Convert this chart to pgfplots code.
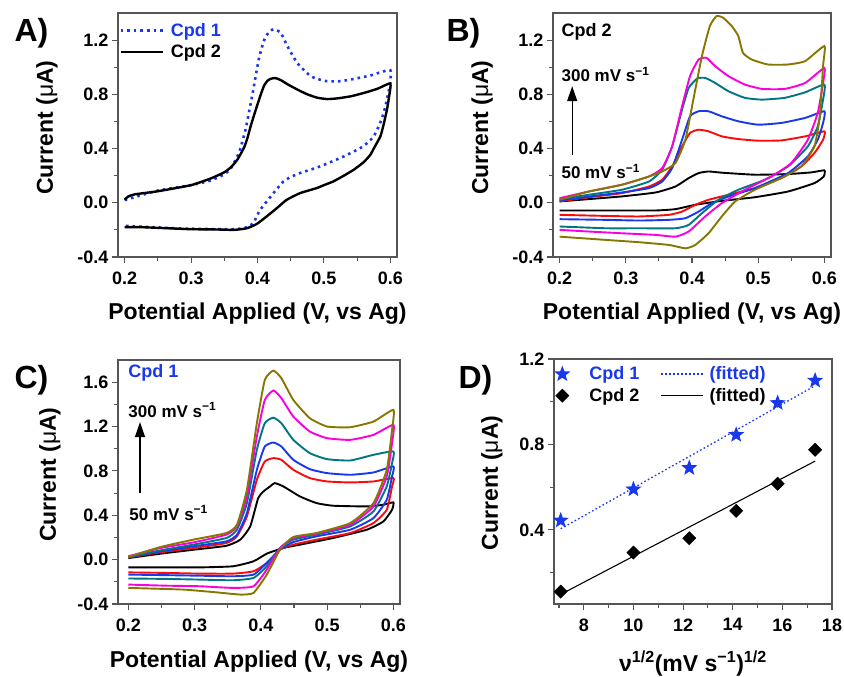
\documentclass[border=0pt]{standalone}
\usepackage{fontspec}
\setmainfont{Liberation Sans}
\usepackage{pgfplots}
\pgfplotsset{compat=1.18}
\usetikzlibrary{arrows.meta}
\definecolor{cblue}{RGB}{25,55,235}
\definecolor{cred}{RGB}{250,10,10}
\definecolor{cteal}{RGB}{0,118,132}
\definecolor{cmag}{RGB}{250,0,220}
\definecolor{colive}{RGB}{135,118,0}
\definecolor{framegray}{RGB}{85,85,85}
\pgfdeclareplotmark{fstar}{%
  \pgfpathmoveto{\pgfqpointpolar{90}{\pgfplotmarksize}}%
  \pgfpathlineto{\pgfqpointpolar{126}{0.42\pgfplotmarksize}}%
  \pgfpathlineto{\pgfqpointpolar{162}{\pgfplotmarksize}}%
  \pgfpathlineto{\pgfqpointpolar{198}{0.42\pgfplotmarksize}}%
  \pgfpathlineto{\pgfqpointpolar{234}{\pgfplotmarksize}}%
  \pgfpathlineto{\pgfqpointpolar{270}{0.42\pgfplotmarksize}}%
  \pgfpathlineto{\pgfqpointpolar{306}{\pgfplotmarksize}}%
  \pgfpathlineto{\pgfqpointpolar{342}{0.42\pgfplotmarksize}}%
  \pgfpathlineto{\pgfqpointpolar{18}{\pgfplotmarksize}}%
  \pgfpathlineto{\pgfqpointpolar{54}{0.42\pgfplotmarksize}}%
  \pgfpathclose\pgfusepathqfill}
\pgfplotsset{
  longline/.style={legend image code/.code={\draw[##1] (0pt,0pt) -- (42pt,0pt);}},
  panel/.style={
    scale only axis, anchor=south west,
    axis line style={draw=framegray, line width=1.2pt},
    every tick/.style={draw=framegray, line width=1.1pt},
    tick align=outside, tick pos=left,
    major tick length=6pt, minor tick length=4pt,
    ticklabel style={font=\fontsize{18}{18}\selectfont\bfseries},
    xticklabel style={yshift=-5pt},
    label style={font=\fontsize{23}{23}\selectfont\bfseries},
    ylabel={Current ({\mdseries μ}A)},
  },
  cv/.style={
    panel, width=279pt, height=244pt,
    xmin=0.19, xmax=0.61,
    xtick={0.2,0.3,0.4,0.5,0.6}, xticklabels={0.2,0.3,0.4,0.5,0.6},
    minor xtick={0.25,0.35,0.45,0.55},
    xlabel={Potential Applied (V, vs Ag)},
  },
}
\begin{document}
\begin{tikzpicture}
\path[use as bounding box] (0,0) rectangle (844pt,677pt);
\node[anchor=west,font=\fontsize{32}{32}\selectfont\bfseries] at (11pt,644pt) {A)};
\node[anchor=west,font=\fontsize{32}{32}\selectfont\bfseries] at (443pt,644pt) {B)};
\node[anchor=west,font=\fontsize{32}{32}\selectfont\bfseries] at (11pt,297pt) {C)};
\node[anchor=west,font=\fontsize{32}{32}\selectfont\bfseries] at (455pt,297pt) {D)};

% ---------------- A ----------------
\begin{axis}[cv, at={(118pt,420pt)},
  ymin=-0.4, ymax=1.4,
  ytick={-0.4,0,0.4,0.8,1.2}, yticklabels={-0.4,0.0,0.4,0.8,1.2},
  minor ytick={-0.2,0.2,0.6,1.0},
  xlabel style={at={(axis description cs:0.5,-0.23)}, anchor=center},
  ylabel style={at={(axis description cs:-0.255,0.53)}, anchor=center},
  legend style={at={(axis description cs:0.0,0.975)}, anchor=north west, draw=none, fill=none,
    font=\fontsize{18}{18}\selectfont\bfseries, inner xsep=1pt, inner ysep=2pt, row sep=3pt,
    /tikz/every odd column/.append style={column sep=5pt}},
  legend cell align=left,
  every axis plot/.append style={smooth, tension=0.3},
]
\addplot[cblue, line width=2.6pt, dash pattern=on 2.6pt off 4pt, longline] coordinates {
(0.2,0.02)(0.25,0.09)(0.3,0.13)(0.33,0.165)(0.35,0.21)(0.36,0.255)(0.372,0.367)(0.382,0.54)(0.392,0.79)(0.402,1.06)(0.41,1.2)(0.418,1.265)(0.425,1.28)(0.435,1.254)(0.445,1.155)(0.46,1.03)(0.48,0.934)(0.5,0.9)(0.52,0.895)(0.54,0.909)(0.57,0.939)(0.6,0.978)
(0.598,0.835)(0.59,0.663)(0.583,0.57)(0.575,0.49)(0.565,0.44)(0.555,0.404)(0.53,0.342)(0.494,0.268)(0.464,0.219)(0.45,0.19)(0.439,0.157)(0.424,0.071)(0.404,-0.052)(0.396,-0.13)(0.39,-0.165)(0.385,-0.18)(0.37,-0.193)(0.34,-0.195)(0.29,-0.19)(0.24,-0.18)(0.2,-0.17)};
\addlegendentry{\textcolor{cblue}{Cpd 1}}
\addplot[black, line width=2.4pt, longline] coordinates {
(0.2,0.022)(0.205,0.045)(0.215,0.062)(0.25,0.085)(0.3,0.13)(0.33,0.18)(0.35,0.225)(0.36,0.262)(0.37,0.32)(0.38,0.41)(0.385,0.48)(0.39,0.57)(0.397,0.68)(0.405,0.8)(0.41,0.865)(0.415,0.9)(0.42,0.915)(0.427,0.92)(0.435,0.905)(0.445,0.875)(0.46,0.835)(0.475,0.8)(0.49,0.775)(0.505,0.765)(0.52,0.77)(0.54,0.785)(0.56,0.81)(0.58,0.84)(0.6,0.88)
(0.598,0.78)(0.595,0.69)(0.59,0.58)(0.585,0.49)(0.575,0.4)(0.57,0.355)(0.56,0.3)(0.545,0.244)(0.53,0.2)(0.514,0.157)(0.5,0.13)(0.489,0.108)(0.464,0.071)(0.444,0.022)(0.429,-0.04)(0.414,-0.1)(0.399,-0.156)(0.384,-0.188)(0.365,-0.2)(0.34,-0.197)(0.3,-0.195)(0.265,-0.188)(0.225,-0.18)(0.2,-0.18)};
\addlegendentry{Cpd 2}
\end{axis}

% ---------------- B ----------------
\begin{axis}[cv, at={(553pt,420pt)}, width=278pt,
  ymin=-0.4, ymax=1.4,
  ytick={-0.4,0,0.4,0.8,1.2}, yticklabels={-0.4,0.0,0.4,0.8,1.2},
  minor ytick={-0.2,0.2,0.6,1.0},
  xlabel style={at={(axis description cs:0.5,-0.23)}, anchor=center},
  ylabel style={at={(axis description cs:-0.255,0.53)}, anchor=center},
  every axis plot/.append style={line width=1.9pt, smooth, tension=0.3},
]
\addplot[black] coordinates {
(0.2,0.01)(0.244,0.027)(0.294,0.047)(0.345,0.076)(0.375,0.12)(0.395,0.182)(0.41,0.219)(0.425,0.231)(0.445,0.222)(0.495,0.207)(0.545,0.212)(0.58,0.224)(0.6,0.239)
(0.599,0.194)(0.585,0.145)(0.545,0.083)(0.495,0.041)(0.445,0.014)(0.405,-0.015)(0.375,-0.047)(0.345,-0.057)(0.294,-0.057)(0.244,-0.057)(0.2,-0.057)};
\addplot[cred] coordinates {
(0.2,0.01)(0.244,0.041)(0.294,0.071)(0.335,0.12)(0.355,0.17)(0.37,0.268)(0.385,0.416)(0.397,0.515)(0.41,0.539)(0.425,0.527)(0.445,0.49)(0.47,0.47)(0.5,0.458)(0.535,0.46)(0.571,0.49)(0.6,0.527)
(0.598,0.465)(0.585,0.367)(0.565,0.268)(0.535,0.182)(0.495,0.108)(0.455,0.059)(0.425,0.022)(0.405,-0.015)(0.385,-0.065)(0.365,-0.089)(0.32,-0.101)(0.27,-0.097)(0.2,-0.089)};
\addplot[cblue] coordinates {
(0.2,0.017)(0.244,0.046)(0.294,0.076)(0.335,0.108)(0.355,0.157)(0.37,0.256)(0.385,0.465)(0.397,0.638)(0.41,0.675)(0.425,0.675)(0.445,0.638)(0.47,0.601)(0.5,0.576)(0.535,0.589)(0.571,0.626)(0.6,0.675)
(0.598,0.589)(0.59,0.465)(0.575,0.342)(0.545,0.219)(0.495,0.108)(0.455,0.046)(0.43,-0.003)(0.41,-0.065)(0.39,-0.114)(0.365,-0.126)(0.32,-0.131)(0.27,-0.126)(0.2,-0.121)};
\addplot[cteal] coordinates {
(0.2,0.027)(0.244,0.059)(0.294,0.096)(0.335,0.157)(0.355,0.244)(0.37,0.416)(0.385,0.687)(0.395,0.847)(0.408,0.917)(0.42,0.921)(0.435,0.884)(0.455,0.823)(0.48,0.774)(0.506,0.761)(0.54,0.774)(0.571,0.815)(0.6,0.872)
(0.598,0.761)(0.59,0.564)(0.575,0.416)(0.545,0.268)(0.51,0.17)(0.47,0.096)(0.44,0.022)(0.415,-0.077)(0.395,-0.163)(0.375,-0.188)(0.32,-0.188)(0.27,-0.188)(0.2,-0.175)};
\addplot[cmag] coordinates {
(0.2,0.034)(0.244,0.083)(0.294,0.133)(0.335,0.194)(0.355,0.256)(0.37,0.416)(0.385,0.712)(0.397,0.934)(0.41,1.057)(0.422,1.069)(0.435,1.008)(0.455,0.934)(0.48,0.872)(0.506,0.84)(0.54,0.84)(0.571,0.884)(0.6,0.995)
(0.598,0.884)(0.59,0.663)(0.575,0.465)(0.55,0.293)(0.52,0.194)(0.48,0.096)(0.445,-0.003)(0.42,-0.101)(0.395,-0.212)(0.375,-0.25)(0.345,-0.237)(0.294,-0.225)(0.244,-0.212)(0.2,-0.2)};
\addplot[colive] coordinates {
(0.2,0.022)(0.244,0.083)(0.294,0.133)(0.335,0.194)(0.355,0.231)(0.375,0.293)(0.39,0.465)(0.402,0.761)(0.415,1.082)(0.427,1.304)(0.437,1.377)(0.447,1.365)(0.46,1.304)(0.47,1.23)(0.477,1.106)(0.49,1.057)(0.515,1.02)(0.545,1.02)(0.571,1.045)(0.6,1.156)
(0.598,1.008)(0.593,0.638)(0.585,0.416)(0.565,0.268)(0.535,0.182)(0.495,0.096)(0.465,0.009)(0.445,-0.101)(0.425,-0.225)(0.405,-0.311)(0.39,-0.336)(0.365,-0.311)(0.32,-0.291)(0.27,-0.274)(0.2,-0.25)};
\node[anchor=west, font=\fontsize{18}{18}\selectfont\bfseries, inner sep=0pt] at (axis cs:0.2027,1.264) {Cpd 2};
\node[anchor=west, font=\fontsize{17}{17}\selectfont\bfseries, inner sep=0pt] at (axis cs:0.2027,0.946) {300 mV s\textsuperscript{−1}};
\node[anchor=west, font=\fontsize{17}{17}\selectfont\bfseries, inner sep=0pt] at (axis cs:0.2027,0.229) {50 mV s\textsuperscript{−1}};
\draw[-{Triangle[length=15pt,width=10pt]}, line width=1.3pt] (axis cs:0.219,0.355) -- (axis cs:0.219,0.86);
\end{axis}

% ---------------- C ----------------
\begin{axis}[cv, at={(118pt,73pt)}, width=282pt, xmin=0.1845,
  ymin=-0.4, ymax=1.8,
  ytick={-0.4,0,0.4,0.8,1.2,1.6}, yticklabels={-0.4,0.0,0.4,0.8,1.2,1.6},
  minor ytick={-0.2,0.2,0.6,1.0,1.4},
  xlabel style={at={(axis description cs:0.5,-0.236)}, anchor=center},
  ylabel style={at={(axis description cs:-0.241,0.53)}, anchor=center},
  every axis plot/.append style={line width=1.9pt, smooth, tension=0.3},
]
\addplot[black] coordinates {
(0.2,0.014)(0.248,0.053)(0.298,0.089)(0.348,0.125)(0.369,0.18)(0.384,0.3)(0.396,0.555)(0.404,0.615)(0.414,0.66)(0.421,0.69)(0.434,0.66)(0.459,0.57)(0.484,0.51)(0.509,0.486)(0.56,0.48)(0.585,0.495)(0.6,0.516)
(0.598,0.45)(0.585,0.345)(0.56,0.27)(0.509,0.195)(0.459,0.135)(0.434,0.105)(0.409,0.054)(0.389,-0.015)(0.358,-0.06)(0.308,-0.07)(0.258,-0.07)(0.2,-0.07)};
\addplot[cred] coordinates {
(0.2,0.02)(0.248,0.065)(0.298,0.104)(0.348,0.15)(0.364,0.21)(0.379,0.39)(0.394,0.72)(0.406,0.885)(0.419,0.915)(0.431,0.9)(0.449,0.81)(0.474,0.735)(0.5,0.705)(0.535,0.696)(0.57,0.705)(0.6,0.735)
(0.598,0.66)(0.59,0.45)(0.57,0.33)(0.535,0.24)(0.484,0.18)(0.449,0.135)(0.429,0.09)(0.409,-0.03)(0.389,-0.105)(0.358,-0.126)(0.308,-0.126)(0.258,-0.12)(0.2,-0.115)};
\addplot[cblue] coordinates {
(0.2,0.02)(0.248,0.074)(0.298,0.12)(0.348,0.165)(0.364,0.225)(0.379,0.42)(0.394,0.81)(0.406,1.02)(0.419,1.056)(0.431,1.02)(0.449,0.9)(0.474,0.816)(0.5,0.78)(0.535,0.765)(0.57,0.786)(0.6,0.84)
(0.598,0.75)(0.59,0.54)(0.57,0.375)(0.535,0.27)(0.484,0.21)(0.449,0.158)(0.429,0.09)(0.409,-0.03)(0.389,-0.135)(0.358,-0.15)(0.308,-0.145)(0.258,-0.14)(0.2,-0.135)};
\addplot[cteal] coordinates {
(0.2,0.023)(0.248,0.083)(0.298,0.135)(0.348,0.195)(0.364,0.27)(0.379,0.51)(0.394,0.99)(0.406,1.23)(0.419,1.28)(0.431,1.23)(0.449,1.08)(0.474,0.96)(0.5,0.906)(0.535,0.894)(0.57,0.945)(0.6,0.975)
(0.598,0.87)(0.59,0.66)(0.57,0.435)(0.535,0.3)(0.484,0.225)(0.449,0.18)(0.429,0.105)(0.409,-0.06)(0.389,-0.165)(0.358,-0.186)(0.308,-0.18)(0.258,-0.174)(0.2,-0.17)};
\addplot[cmag] coordinates {
(0.2,0.03)(0.248,0.104)(0.298,0.155)(0.348,0.225)(0.364,0.3)(0.379,0.57)(0.394,1.11)(0.406,1.44)(0.419,1.525)(0.431,1.456)(0.449,1.29)(0.474,1.155)(0.5,1.095)(0.535,1.08)(0.57,1.125)(0.6,1.215)
(0.598,1.05)(0.59,0.75)(0.57,0.48)(0.535,0.315)(0.484,0.234)(0.449,0.195)(0.429,0.105)(0.409,-0.09)(0.389,-0.24)(0.358,-0.255)(0.308,-0.24)(0.258,-0.235)(0.2,-0.225)};
\addplot[colive] coordinates {
(0.2,0.023)(0.248,0.113)(0.298,0.18)(0.348,0.24)(0.364,0.315)(0.379,0.63)(0.394,1.23)(0.406,1.62)(0.419,1.705)(0.431,1.636)(0.449,1.44)(0.474,1.275)(0.5,1.2)(0.535,1.194)(0.57,1.245)(0.6,1.35)
(0.598,1.17)(0.59,0.81)(0.57,0.51)(0.535,0.33)(0.484,0.24)(0.449,0.204)(0.429,0.09)(0.409,-0.135)(0.389,-0.3)(0.369,-0.315)(0.333,-0.295)(0.283,-0.27)(0.2,-0.255)};
\node[anchor=west, font=\fontsize{18}{18}\selectfont\bfseries, inner sep=0pt, text=cblue] at (axis cs:0.2,1.684) {Cpd 1};
\node[anchor=west, font=\fontsize{17}{17}\selectfont\bfseries, inner sep=0pt] at (axis cs:0.2,1.35) {300 mV s\textsuperscript{−1}};
\node[anchor=west, font=\fontsize{17}{17}\selectfont\bfseries, inner sep=0pt] at (axis cs:0.2015,0.42) {50 mV s\textsuperscript{−1}};
\draw[-{Triangle[length=15pt,width=10pt]}, line width=1.3pt] (axis cs:0.2177,0.6) -- (axis cs:0.2177,1.24);
\end{axis}

% ---------------- D ----------------
\begin{axis}[panel, at={(554pt,73pt)}, width=278pt, height=245pt,
  xmin=6.8, xmax=18, ymin=0.053, ymax=1.2,
  xtick={8,10,12,14,16,18}, xticklabels={8,10,12,14,16,18},
  minor xtick={7,9,11,13,15,17},
  ytick={0.4,0.8,1.2}, yticklabels={0.4,0.8,1.2},
  minor ytick={0.2,0.6,1.0},
  xlabel={ν\textsuperscript{1/2}(mV s\textsuperscript{−1})\textsuperscript{1/2}},
  xlabel style={at={(axis description cs:0.5,-0.245)}, anchor=center},
  ylabel style={at={(axis description cs:-0.223,0.494)}, anchor=center},
  legend columns=2,
  legend style={at={(axis description cs:0.0,0.985)}, anchor=north west, draw=none, fill=none,
    font=\fontsize{18}{18}\selectfont\bfseries, inner xsep=0pt, inner ysep=2pt, row sep=3pt,
    /tikz/column 1/.style={column sep=17pt},
    /tikz/column 2/.style={column sep=19pt},
    /tikz/column 3/.style={column sep=4pt}},
  legend cell align=left,
  clip=false,
]
\addplot[only marks, mark=fstar, mark size=8.5pt, color=cblue] coordinates {
(7.07,0.444)(10,0.59)(12.25,0.69)(14.14,0.845)(15.81,0.994)(17.32,1.099)};
\addlegendentry{\textcolor{cblue}{Cpd 1}}
\addplot[cblue, line width=1.3pt, dash pattern=on 1.6pt off 2.4pt, longline] coordinates {
(7.07,0.405)(17.32,1.075)};
\addlegendentry{\textcolor{cblue}{(fitted)}}
\addplot[only marks, mark=square*, mark size=4.7pt, mark options={rotate=45}, color=black] coordinates {
(7.07,0.111)(10,0.294)(12.25,0.361)(14.14,0.489)(15.81,0.616)(17.32,0.775)};
\addlegendentry{Cpd 2}
\addplot[black, line width=1.1pt, longline] coordinates {
(7.07,0.098)(17.32,0.722)};
\addlegendentry{(fitted)}
\end{axis}
\end{tikzpicture}
\end{document}
